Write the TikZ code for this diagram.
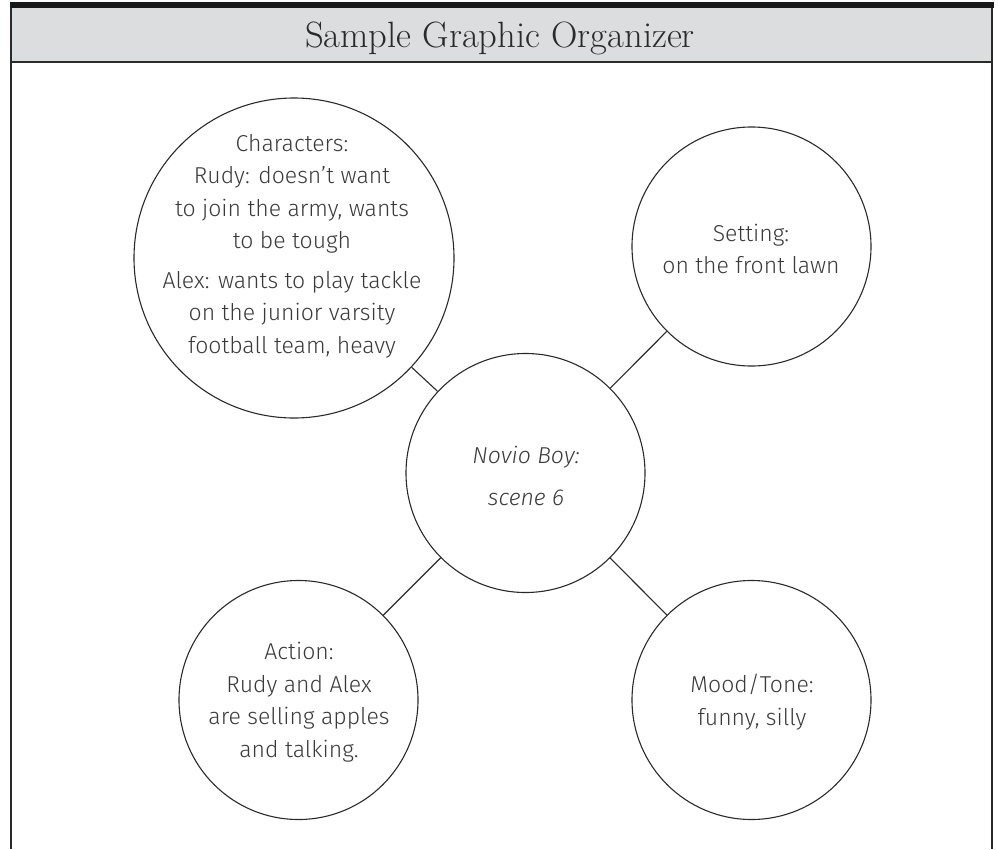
\documentclass[tikz,border=0pt]{standalone}
\usepackage{fontspec}
\setmainfont{Latin Modern Roman}
\newfontfamily\hand{Fira Sans Light}
\definecolor{headgray}{HTML}{DCDDDF}
\definecolor{ink}{HTML}{2A2A2A}
\definecolor{textink}{HTML}{3A3A3A}
\begin{document}
\begin{tikzpicture}[x=1pt,y=-1pt,
  bubble/.style={circle,draw=ink,line width=1.1pt,inner sep=0pt,minimum size=239pt},
  bubbletext/.style={align=center,text=textink,font=\hand\fontsize{23}{32.5}\selectfont},
  link/.style={draw=ink,line width=1.1pt}]
  \useasboundingbox (0,0) rectangle (998,849);
  % heading band
  \fill[headgray] (11,7.5) rectangle (992,62);
  \fill[black!90] (10,1.5) rectangle (994,7.5);
  \draw[line width=1.5pt,ink] (11,849) -- (11,7.5) (992,7.5) -- (992,849);
  \draw[line width=1.6pt,ink] (11,62) -- (992,62);
  \node[text=ink,font=\fontsize{36.6}{40}\selectfont,anchor=base,inner sep=0pt] (title) at (500,47)
    {Sample Graphic Organizer};
  % bubbles
  \node[bubble,minimum size=320pt] (chars) at (294,258) {};
  \node[bubble] (setting) at (751.5,246.5) {};
  \node[bubble] (hub) at (525.5,473) {};
  \node[bubble] (action) at (298.5,700) {};
  \node[bubble] (mood) at (751.5,700) {};
  % spokes
  \draw[link] (chars) -- (hub);
  \draw[link] (setting) -- (hub);
  \draw[link] (action) -- (hub);
  \draw[link] (mood) -- (hub);
  % texts
  \node[bubbletext] (charstext) at (292,246)
    {Characters:\\ Rudy: doesn’t want\\ to join the army, wants\\ to be tough\\[7pt]
     Alex: wants to play tackle\\ on the junior varsity\\ football team, heavy};
  \node[bubbletext] (settingtext) at (751,249) {Setting:\\ on the front lawn};
  \node[bubbletext,font=\hand\itshape\fontsize{23}{42}\selectfont] (hubtext) at (526,476)
    {Novio Boy:\\ scene 6};
  \node[bubbletext] (actiontext) at (299,702)
    {Action:\\ Rudy and Alex\\ are selling apples\\ and talking.};
  \node[bubbletext] (moodtext) at (752,702) {Mood/Tone:\\ funny, silly};
\end{tikzpicture}
\end{document}
